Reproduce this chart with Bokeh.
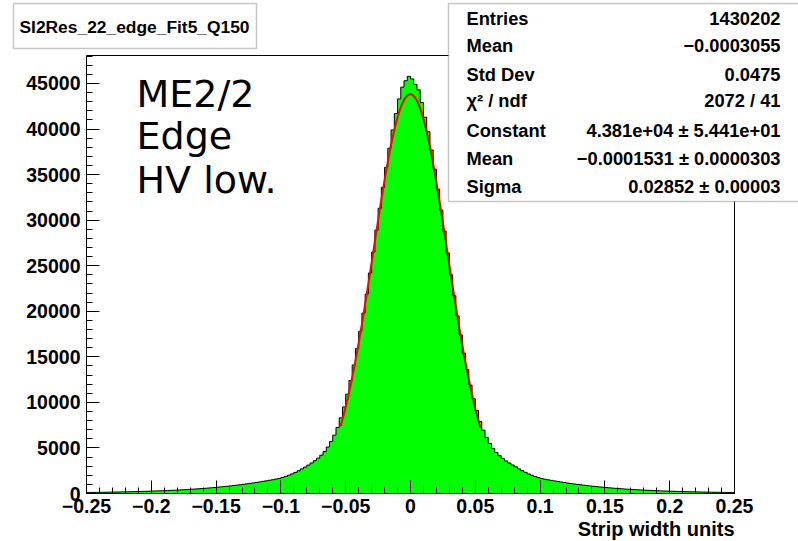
from bokeh.plotting import figure
from bokeh.models import Range1d, FixedTicker, Label, BoxAnnotation
from bokeh.embed import file_html
from bokeh.resources import INLINE
import numpy as np

# ---------------- data ----------------
title_text = "SI2Res_22_edge_Fit5_Q150"
x_label = "Strip width units"
bin_lo, bin_hi, n_bins = -0.25, 0.25, 200

# bin contents, going outward from x = 0
neg_side = [45780, 45300, 44600, 43300, 41700, 39900, 37900, 35800, 33600, 31300,
            28900, 26500, 24200, 21900, 19800, 17800, 15900, 14100, 12400, 10900,
            9500, 8300, 7250, 6400, 5700, 5100, 4600, 4200, 3880, 3600,
            3350, 3120, 2900, 2700, 2500, 2320, 2150, 2010, 1880, 1760,
            1650, 1580, 1510, 1450, 1390, 1330, 1270, 1215, 1160, 1110,
            1060, 1010, 965, 920, 875, 835, 795, 760, 725, 690,
            655, 625, 595, 565, 540, 515, 490, 467, 445, 425,
            405, 386, 368, 351, 335, 320, 305, 291, 278, 266,
            254, 243, 232, 222, 212, 203, 194, 186, 178, 170,
            163, 156, 149, 143, 137, 131, 125, 120, 115, 110]
pos_side = [45500, 44900, 44300, 42900, 41300, 39700, 37700, 35600, 33400, 31100,
            28800, 26400, 24000, 21700, 19500, 17400, 15400, 13600, 11900, 10400,
            9100, 7900, 6950, 6150, 5500, 4950, 4500, 4150, 3850, 3580,
            3350, 3130, 2930, 2700, 2500, 2320, 2150, 2000, 1860, 1740,
            1640, 1570, 1500, 1440, 1380, 1320, 1260, 1210, 1150, 1100,
            1050, 1000, 960, 915, 870, 830, 790, 755, 720, 685,
            650, 620, 590, 560, 535, 510, 485, 462, 440, 420,
            400, 382, 364, 347, 331, 316, 301, 287, 274, 262,
            250, 239, 228, 218, 208, 199, 190, 182, 174, 166,
            159, 152, 145, 139, 133, 127, 121, 116, 111, 106]
counts = neg_side[::-1] + pos_side

x_ticks = [-0.25, -0.2, -0.15, -0.1, -0.05, 0.0, 0.05, 0.1, 0.15, 0.2, 0.25]
x_tick_labels = ["\u22120.25", "\u22120.2", "\u22120.15", "\u22120.1", "\u22120.05", "0",
                 "0.05", "0.1", "0.15", "0.2", "0.25"]
y_ticks = [0, 5000, 10000, 15000, 20000, 25000, 30000, 35000, 40000, 45000]
y_tick_labels = ["0", "5000", "10000", "15000", "20000", "25000", "30000", "35000", "40000", "45000"]
y_max = 48070

stats_names = ["Entries", "Mean", "Std Dev", "\u03c7\u00b2 / ndf", "Constant", "Mean", "Sigma"]
stats_values = ["1430202", "\u22120.0003055", "0.0475", "2072 / 41",
                "4.381e+04 \u00b1 5.441e+01", "\u22120.0001531 \u00b1 0.0000303",
                "0.02852 \u00b1 0.00003"]
fit_constant = 43810.0
fit_mean = -0.0001531
fit_sigma = 0.02852
fit_lo, fit_hi = -0.054, 0.054

note_lines = ["ME2/2", "Edge", "HV low."]

# ---------------- layout (pixels in the page) ----------------
W, H = 798, 541
FR_L, FR_R, FR_T, FR_B = 86, 734, 55, 493    # histogram frame in page pixels
kx = (FR_R - FR_L) / (bin_hi - bin_lo)
ky = (FR_B - FR_T) / y_max
x_start = bin_lo - FR_L / kx
x_end = bin_hi + (W - FR_R) / kx
y_start = -(H - FR_B) / ky
y_end = y_max + FR_T / ky

font = "Liberation Sans"
stat_fs = "18.3px"

p = figure(width=W, height=H, output_backend="svg", toolbar_location=None,
           x_range=Range1d(x_start, x_end), y_range=Range1d(y_start, y_end),
           min_border=0, min_border_left=0, min_border_right=0,
           min_border_top=0, min_border_bottom=0)
p.background_fill_color = "white"
p.border_fill_color = "white"
p.outline_line_color = None
p.grid.visible = False

edges = np.linspace(bin_lo, bin_hi, n_bins + 1)
xs = [edges[0]]
ys = [0]
for i, c in enumerate(counts):
    xs += [edges[i], edges[i + 1]]
    ys += [c, c]
xs.append(edges[-1])
ys.append(0)

p.patch(xs, ys, fill_color="#00ff00", line_color=None)
p.line(xs, ys, line_color="black", line_width=1)

fx = np.linspace(fit_lo, fit_hi, 200)
fy = fit_constant * np.exp(-0.5 * ((fx - fit_mean) / fit_sigma) ** 2)
p.line(fx, fy, line_color="#ff0000", line_width=2)

# top and right sides of the histogram frame
p.line([bin_lo, bin_hi, bin_hi], [y_max, y_max, 0], line_color="black", line_width=1)

for ax in (p.xaxis[0], p.yaxis[0]):
    ax.axis_line_color = "black"
    ax.major_tick_line_color = "black"
    ax.minor_tick_line_color = "black"
    ax.major_tick_in = 13
    ax.major_tick_out = 0
    ax.minor_tick_in = 6
    ax.minor_tick_out = 0
    ax.major_label_text_font = font
    ax.major_label_text_font_style = "bold"
    ax.major_label_text_font_size = "19.5px"
    ax.major_label_text_color = "black"

p.xaxis.fixed_location = 0
p.xaxis.bounds = (bin_lo, bin_hi)
p.yaxis.fixed_location = bin_lo
p.yaxis.bounds = (0, y_max)

p.xaxis.ticker = FixedTicker(ticks=x_ticks, minor_ticks=list(np.round(np.arange(-0.25, 0.2501, 0.01), 4)))
p.xaxis.major_label_overrides = dict(zip(x_ticks, x_tick_labels))
p.xaxis.major_label_standoff = 5
p.yaxis.ticker = FixedTicker(ticks=y_ticks, minor_ticks=list(range(0, 48001, 1000)))
p.yaxis.major_label_overrides = dict(zip(y_ticks, y_tick_labels))
p.yaxis.major_label_standoff = 6


def sy(wy):
    return H - wy


def label(text, wx, wy, align="left", size=stat_fs, fnt=font, style="bold", level="overlay"):
    p.add_layout(Label(x=wx, y=sy(wy), x_units="screen", y_units="screen", text=text,
                       text_align=align, text_baseline="middle", text_font=fnt,
                       text_font_style=style, text_font_size=size, text_color="black",
                       level=level))


def box(l, r, t, b):
    p.add_layout(BoxAnnotation(left=l, right=r, top=sy(t), bottom=sy(b),
                               left_units="screen", right_units="screen",
                               bottom_units="screen", top_units="screen",
                               fill_color="white", fill_alpha=1, line_color="#444444",
                               line_width=1.5, level="overlay"))


# x axis title, right aligned at the end of the axis
label(x_label, FR_R, 528, align="right", size="20px", level="annotation")

# big note
for t, wy in zip(note_lines, [93, 135, 179]):
    label(t, 136, wy, size="38px", fnt="DejaVu Sans", style="normal", level="annotation")

# title box
box(13, 256, 3, 48)
label(title_text, 134, 26, align="center", size="17.4px")

# stats box
box(448, W + 20, 3, 201)
row_y = [18, 45, 74, 100, 130, 158, 186]
for name, val, wy in zip(stats_names, stats_values, row_y):
    label(name, 466, wy)
    label(val, 780, wy, align="right")

open("out.html", "w").write(file_html(p, INLINE))
